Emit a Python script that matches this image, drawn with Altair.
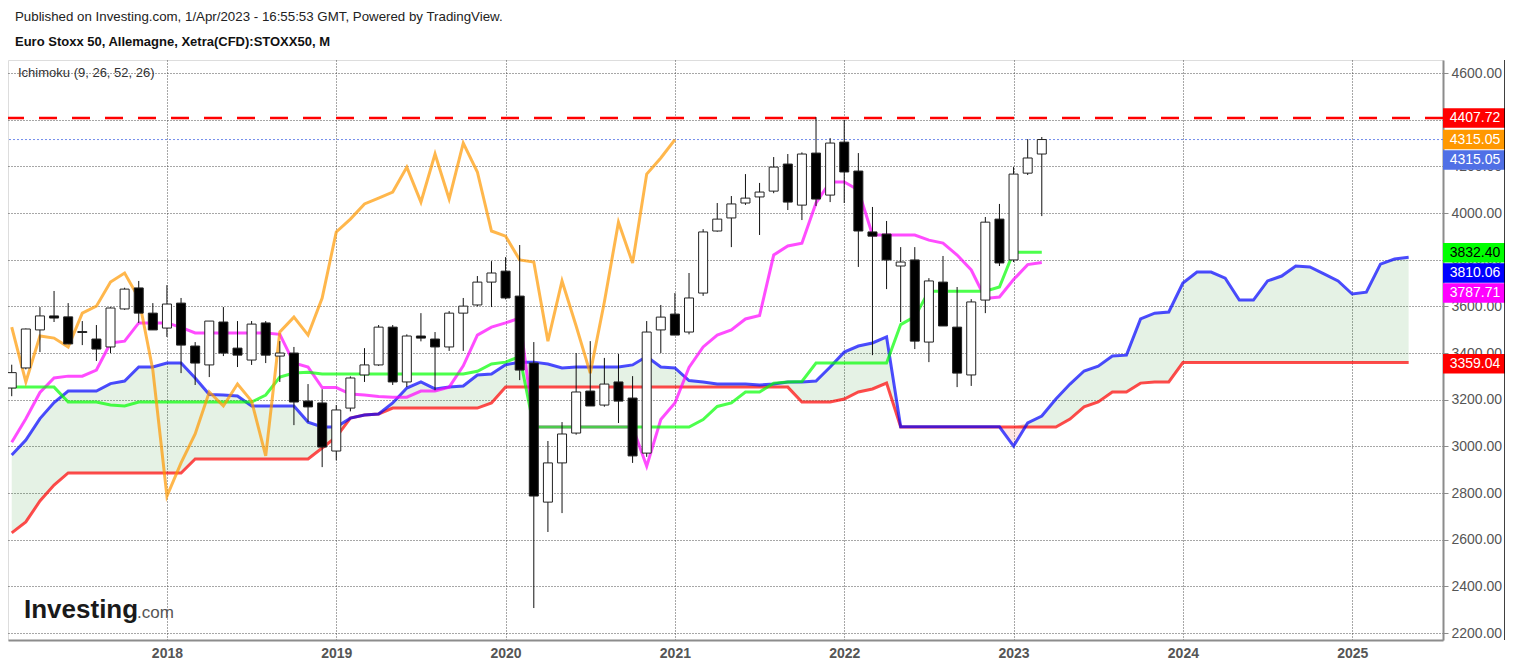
import altair as alt
import pandas as pd

# ---------------- data (monthly, index 0 = Feb 2017) ----------------
opens = [3250, 3336, 3499, 3559, 3555, 3492, 3460, 3426, 3589, 3679,
         3571, 3507, 3614, 3430, 3349, 3533, 3421, 3370, 3529, 3387,
         3400, 3194, 3186, 2980, 3164, 3306, 3349, 3511, 3276, 3473,
         3460, 3426, 3571, 3606, 3704, 3751, 3644, 3357, 2761, 2929,
         3057, 3237, 3177, 3276, 3207, 2971, 3499, 3567, 3490, 3657,
         3923, 3979, 4043, 4069, 4094, 4210, 4034, 4257, 4077, 4304,
         4180, 3919, 3910, 3773, 3799, 3447, 3704, 3511, 3306, 3627,
         3974, 3799, 4171, 4253]
highs = [3350, 3505, 3597, 3666, 3614, 3537, 3520, 3596, 3680, 3709,
         3614, 3691, 3636, 3447, 3537, 3597, 3537, 3537, 3537, 3451,
         3426, 3267, 3245, 3177, 3300, 3421, 3520, 3520, 3480, 3571,
         3490, 3580, 3636, 3730, 3794, 3811, 3863, 3447, 3023, 3104,
         3400, 3451, 3379, 3396, 3301, 3537, 3606, 3657, 3743, 3931,
         4043, 4073, 4167, 4129, 4240, 4253, 4260, 4411, 4321, 4399,
         4257, 4026, 3966, 3854, 3854, 3721, 3816, 3683, 3631, 3983,
         4039, 4197, 4317, 4326]
lows = [3215, 3330, 3404, 3533, 3439, 3434, 3366, 3400, 3585, 3529,
        3499, 3469, 3314, 3263, 3297, 3387, 3340, 3349, 3357, 3276,
        3091, 3104, 2911, 2940, 3150, 3276, 3345, 3263, 3254, 3450,
        3241, 3409, 3409, 3600, 3597, 3630, 3284, 2307, 2633, 2714,
        3050, 3173, 3170, 3100, 2929, 2955, 3400, 3477, 3480, 3645,
        3920, 3854, 4035, 3906, 4085, 4013, 3970, 4030, 4047, 4043,
        3769, 3391, 3674, 3533, 3417, 3361, 3516, 3254, 3259, 3571,
        3773, 3790, 4163, 3987]
closes = [3316, 3503, 3559, 3550, 3439, 3488, 3417, 3593, 3674, 3571,
          3499, 3610, 3434, 3357, 3537, 3400, 3391, 3524, 3391, 3400,
          3190, 3169, 2997, 3156, 3293, 3349, 3511, 3276, 3473, 3464,
          3426, 3571, 3601, 3704, 3743, 3636, 3327, 2787, 2929, 3053,
          3233, 3173, 3267, 3194, 2959, 3490, 3554, 3477, 3636, 3919,
          3974, 4039, 4064, 4090, 4197, 4047, 4253, 4060, 4300, 4176,
          3923, 3901, 3799, 3790, 3451, 3709, 3516, 3314, 3619, 3961,
          3786, 4167, 4236, 4315.05]

tenkan = [3018, 3118, 3231, 3293, 3301, 3301, 3327, 3443, 3451, 3529,
          3529, 3529, 3510, 3486, 3486, 3486, 3486, 3486, 3486, 3480,
          3357, 3340, 3252, 3252, 3224, 3220, 3214, 3211, 3211, 3237,
          3237, 3254, 3345, 3477, 3511, 3529, 3550, 3083, 3083, 3083,
          3083, 3083, 3083, 3083, 3083, 2915, 3115, 3186, 3338, 3426,
          3477, 3499, 3546, 3561, 3820, 3859, 3871, 4043, 4133, 4133,
          4099, 3906, 3906, 3906, 3906, 3884, 3871, 3820, 3756, 3634,
          3640, 3715, 3779, 3787.71]
kijun = [3254, 3254, 3254, 3254, 3190, 3190, 3190, 3177, 3173, 3190,
         3190, 3190, 3190, 3190, 3190, 3190, 3190, 3190, 3220, 3297,
         3314, 3318, 3310, 3310, 3310, 3310, 3310, 3310, 3310, 3310,
         3310, 3310, 3310, 3322, 3353, 3361, 3385, 3083, 3083, 3083,
         3083, 3083, 3083, 3083, 3083, 3083, 3083, 3083, 3083, 3115,
         3171, 3186, 3233, 3233, 3271, 3276, 3278, 3357, 3357, 3357,
         3357, 3357, 3357, 3522, 3556, 3665, 3665, 3665, 3665, 3665,
         3683, 3832.4, 3832.4, 3832.4]
span_a = [2963, 3027, 3119, 3188, 3237, 3237, 3237, 3269, 3280, 3340,
          3340, 3357, 3357, 3293, 3222, 3220, 3216, 3173, 3173, 3173,
          3173, 3104, 3083, 3083, 3121, 3134, 3139, 3186, 3250, 3276,
          3246, 3254, 3259, 3306, 3310, 3350, 3360, 3361, 3353, 3336,
          3340, 3340, 3340, 3340, 3349, 3385, 3340, 3336, 3282, 3276,
          3267, 3267, 3267, 3263, 3267, 3276, 3276, 3280, 3340, 3404,
          3430, 3443, 3469, 3084, 3084, 3084, 3084, 3084, 3084, 3084,
          3084, 3001, 3100, 3130, 3203, 3267, 3323, 3344, 3387, 3391,
          3546, 3571, 3576, 3700, 3747, 3747, 3721, 3627, 3627, 3709,
          3730, 3773, 3769, 3739, 3709, 3653, 3661, 3781, 3803, 3810.06]
span_b = [2629, 2676, 2766, 2834, 2886, 2886, 2886, 2886, 2886, 2886,
          2886, 2886, 2886, 2946, 2946, 2946, 2946, 2946, 2946, 2946,
          2946, 2946, 2993, 3040, 3121, 3134, 3139, 3164, 3164, 3164,
          3164, 3164, 3164, 3164, 3186, 3254, 3254, 3254, 3254, 3254,
          3254, 3254, 3254, 3254, 3254, 3254, 3254, 3254, 3254, 3254,
          3254, 3254, 3254, 3254, 3254, 3254, 3190, 3190, 3190, 3203,
          3233, 3246, 3271, 3083, 3083, 3083, 3083, 3083, 3083, 3083,
          3083, 3083, 3083, 3083, 3083, 3117, 3169, 3190, 3233, 3233,
          3271, 3276, 3276, 3359.04, 3359.04, 3359.04, 3359.04, 3359.04, 3359.04, 3359.04,
          3359.04, 3359.04, 3359.04, 3359.04, 3359.04, 3359.04, 3359.04, 3359.04, 3359.04, 3359.04]
lagging = [3511, 3276, 3473, 3464, 3426, 3571, 3601, 3704, 3743, 3636,
           3327, 2787, 2929, 3053, 3233, 3173, 3267, 3194, 2959, 3490,
           3554, 3477, 3636, 3919, 3974, 4039, 4064, 4090, 4197, 4047,
           4253, 4060, 4300, 4176, 3923, 3901, 3799, 3790, 3451, 3709,
           3516, 3314, 3619, 3961, 3786, 4167, 4236, 4315.05]

year_ticks = [11, 23, 35, 47, 59, 71, 83, 95]
price_ticks = [2200, 2400, 2600, 2800, 3000, 3200, 3400, 3600, 3800, 4000, 4200, 4400, 4600]
resistance = 4407.72
last_price = 4315.05
tag_values = [4407.72, 4315.05, 4315.05, 3832.40, 3810.06, 3787.71, 3359.04]
tag_texts = ["4407.72", "4315.05", "4315.05", "3832.40", "3810.06", "3787.71", "3359.04"]

header_1 = "Published on Investing.com, 1/Apr/2023 - 16:55:53 GMT, Powered by TradingView."
header_2 = "Euro Stoxx 50, Allemagne, Xetra(CFD):STOXX50, M"
legend_text = "Ichimoku (9, 26, 52, 26)"

# ---------------- styling ----------------
FONT = "Liberation Sans"
W, H = 1435, 580
GRID = "#3c3c3c"
tag_fill = ["#ff0000", "#ff9800", "#5070e6", "#00ff00", "#0000ff", "#ff00ff", "#ff0000"]
tag_ink = ["#ffffff", "#ffffff", "#ffffff", "#000000", "#ffffff", "#ffffff", "#ffffff"]
tag_shift = [0, 0, 20.5, 0.5, 15.7, 30.5, 1.2]

# ---------------- tables ----------------
candles = pd.DataFrame({"i": list(range(len(closes))), "open": opens, "high": highs,
                        "low": lows, "close": closes})
candles["up"] = candles["close"] >= candles["open"]
ind = pd.DataFrame({"i": list(range(len(tenkan))), "tenkan": tenkan, "kijun": kijun})
cloud = pd.DataFrame({"i": list(range(len(span_a))), "a": span_a, "b": span_b})
cloud["hi"] = cloud[["a", "b"]].max(axis=1)
lag = pd.DataFrame({"i": list(range(len(lagging))), "lag": lagging})
one = pd.DataFrame({"k": [0]})

xs = alt.Scale(domain=[0.09, 101.08], nice=False, zero=False)
ys = alt.Scale(domain=[2170, 4656], nice=False, zero=False)
xaxis = alt.Axis(values=year_ticks, labelExpr="toString(2017 + (datum.value + 1) / 12)",
                 grid=True, gridColor=GRID, gridDash=[1, 2], gridWidth=1, gridOpacity=0.9,
                 domainColor="#8c8c8c", domainWidth=2, ticks=False,
                 labelFont=FONT, labelFontSize=14, labelFontWeight="bold",
                 labelColor="#555555", labelPadding=6, title=None)
yaxis = alt.Axis(orient="right", values=price_ticks, format=".2f",
                 grid=True, gridColor=GRID, gridDash=[1, 2], gridWidth=1, gridOpacity=0.9,
                 domainColor="#8c8c8c", domainWidth=2, tickColor="#8c8c8c", tickSize=5,
                 labelFont=FONT, labelFontSize=14, labelColor="#555555", labelPadding=3,
                 title=None)


def X():
    return alt.X("i:Q", scale=xs, axis=xaxis)


def Y(f):
    return alt.Y(f"{f}:Q", scale=ys, axis=yaxis)


layers = []
layers.append(alt.Chart(cloud).mark_area(color="#008000", opacity=0.1, clip=True)
              .encode(x=X(), y=Y("b"), y2="hi:Q"))
layers.append(alt.Chart(cloud).mark_area(color="#ff0000", opacity=0.1, clip=True)
              .encode(x=X(), y=Y("a"), y2="hi:Q"))

layers.append(alt.Chart(pd.DataFrame({"v": [resistance]}))
              .mark_rule(color="#ff0000", strokeWidth=2.5, strokeDash=[18, 15])
              .encode(y=Y("v")))
layers.append(alt.Chart(pd.DataFrame({"v": [last_price]}))
              .mark_rule(color="#5070e6", strokeWidth=1, strokeDash=[2, 2], opacity=0.8)
              .encode(y=Y("v")))

line_style = dict(strokeWidth=3, opacity=0.7, clip=True)
layers.append(alt.Chart(cloud).mark_line(color="#ff0000", **line_style).encode(x=X(), y=Y("b")))
layers.append(alt.Chart(cloud).mark_line(color="#0000ff", **line_style).encode(x=X(), y=Y("a")))
layers.append(alt.Chart(ind).mark_line(color="#ff00ff", **line_style).encode(x=X(), y=Y("tenkan")))
layers.append(alt.Chart(ind).mark_line(color="#00ff00", **line_style).encode(x=X(), y=Y("kijun")))
layers.append(alt.Chart(lag).mark_line(color="#ff9800", **line_style).encode(x=X(), y=Y("lag")))

layers.append(alt.Chart(candles).mark_rule(color="#111111", strokeWidth=1, clip=True)
              .encode(x=X(), y=Y("low"), y2="high:Q"))
layers.append(alt.Chart(candles).mark_bar(size=9, stroke="#222222", strokeWidth=1, clip=True)
              .encode(x=X(), y=Y("open"), y2="close:Q",
                      fill=alt.condition("datum.up", alt.value("#ffffff"), alt.value("#000000"))))

# right-hand price tags
for v, t, fc, ic, sh in zip(tag_values, tag_texts, tag_fill, tag_ink, tag_shift):
    d = pd.DataFrame({"v": [v], "t": [t]})
    layers.append(alt.Chart(d).mark_rule(color=fc, strokeWidth=19.5, yOffset=sh)
                  .encode(x=alt.value(W), x2=alt.value(W + 62), y=Y("v")))
    layers.append(alt.Chart(d).mark_text(font=FONT, fontSize=14, color=ic, align="center",
                                         baseline="middle", yOffset=sh)
                  .encode(x=alt.value(W + 32), y=Y("v"), text="t:N"))

# right border
layers.append(alt.Chart(one).mark_rule(color="#000000", strokeWidth=1.5)
              .encode(x=alt.value(W + 62), y=alt.value(0), y2=alt.value(H)))


def label(txt, px, py, **kw):
    d = pd.DataFrame({"t": [txt]})
    return (alt.Chart(d).mark_text(font=FONT, align="left", **kw)
            .encode(x=alt.value(px - 8), y=alt.value(py - 60), text="t:N"))


layers.append(label(header_1, 15, 17, fontSize=13.3, color="#222222", baseline="middle"))
layers.append(label(header_2, 15, 42, fontSize=13, fontWeight="bold", color="#111111", baseline="middle"))
layers.append(label(legend_text, 18, 73, fontSize=13, color="#333333", baseline="middle"))
layers.append(label("Investing", 24, 618, fontSize=26, fontWeight="bold", color="#1a1a1a",
                    baseline="alphabetic"))
layers.append(label(".com", 137, 618, fontSize=17, color="#555555", baseline="alphabetic"))

chart = (alt.layer(*layers)
         .properties(width=W, height=H,
                     autosize=alt.AutoSizeParams(type="none"),
                     padding={"left": 0, "top": 52, "right": 62, "bottom": 24})
         .configure_view(stroke=None)
         .configure(background="#ffffff"))

chart.save("out.html", embed_options={"renderer": "svg", "actions": False})
